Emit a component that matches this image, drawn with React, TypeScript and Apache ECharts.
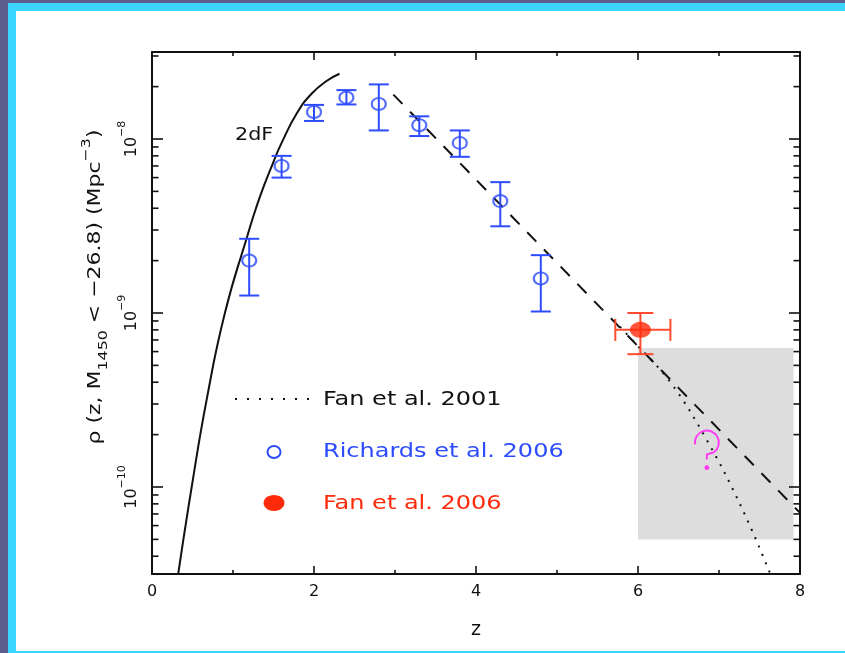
import React, { useEffect, useRef } from "react";
import * as echarts from "echarts";

// Richards et al. 2006 binned quasar space density (open circles) with 1-sigma range
const richardsZ = [1.2, 1.6, 2.0, 2.4, 2.8, 3.3, 3.8, 4.3, 4.8];
const richardsRho = [2.0e-9, 7.0e-9, 1.43e-8, 1.73e-8, 1.59e-8, 1.2e-8, 9.5e-9, 4.4e-9, 1.58e-9];
const richardsRhoHigh = [2.67e-9, 8.0e-9, 1.57e-8, 1.91e-8, 2.06e-8, 1.35e-8, 1.12e-8, 5.65e-9, 2.15e-9];
const richardsRhoLow = [1.26e-9, 6.0e-9, 1.27e-8, 1.58e-8, 1.12e-8, 1.04e-8, 7.9e-9, 3.15e-9, 1.02e-9];

// Fan et al. 2006 z ~ 6 measurement (filled circle) with redshift and density ranges
const fan06Z = [6.03];
const fan06Rho = [8.0e-10];
const fan06RhoHigh = [1.0e-9];
const fan06RhoLow = [5.8e-10];
const fan06ZLow = [5.72];
const fan06ZHigh = [6.4];

// 2dF luminosity function model (solid)
const twoDFZ = [0.325, 0.49, 0.676, 0.9, 1.18, 1.335, 1.5, 1.6, 1.79, 1.97, 2.16, 2.315];
const twoDFRho = [3.2e-11, 1.0e-10, 3.2e-10, 1.0e-9, 2.8e-9, 4.7e-9, 7.4e-9, 9.5e-9, 1.41e-8, 1.82e-8, 2.16e-8, 2.37e-8];

// High-redshift exponential decline (dashed)
const declineZ = [2.98, 8.0];
const declineRho = [1.8e-8, 7.1e-11];

// Fan et al. 2001 steepening extrapolation (dotted)
const fan01Z = [5.7, 5.98, 6.4, 6.85, 7.28, 7.63];
const fan01Rho = [9.1e-10, 6.6e-10, 4.0e-10, 1.86e-10, 7.6e-11, 3.2e-11];

// Unexplored region beyond z = 6 (shaded box) and its marker
const boxZ = [6.0, 7.92];
const boxRho = [5.0e-11, 6.3e-10];
const questionZ = 6.85;
const questionRho = 1.8e-10;

// Axis ranges and labelled decades
const xRange = [0, 8];
const yExpRange = [-10.5, -7.5];
const yLabelExponents = [-10, -9, -8];

const FONT = "DejaVu Sans";
const INK = "#111111";
const BLUE = "#2d4cff";
const RED = "#ff2a0a";
const RED_BAR = "#ff4b2e";
const MAGENTA = "#ff3cf5";

const L = (v: number) => Math.log10(v);

export default function App() {
  const ref = useRef<HTMLDivElement>(null);

  useEffect(() => {
    const el = ref.current;
    if (!el) return;
    const chart = echarts.init(el, null, { renderer: "svg" });

    // Logarithmic tick marks: decades long, 2..9 short
    const yTicks: number[][] = [];
    for (let n = Math.floor(yExpRange[0]); n <= Math.ceil(yExpRange[1]); n++) {
      for (let m = 1; m <= 9; m++) {
        const v = L(m * Math.pow(10, n));
        if (v >= yExpRange[0] - 1e-9 && v <= yExpRange[1] + 1e-9) {
          yTicks.push([xRange[0], v, m === 1 ? 1 : 0]);
        }
      }
    }

    const richardsBars = richardsZ.map((z, i) => [z, L(richardsRho[i]), L(richardsRhoLow[i]), L(richardsRhoHigh[i])]);
    const fanBars = fan06Z.map((z, i) => [z, L(fan06Rho[i]), L(fan06RhoLow[i]), L(fan06RhoHigh[i]), fan06ZLow[i], fan06ZHigh[i]]);

    const xAxisBase = {
      type: "value" as const,
      min: xRange[0],
      max: xRange[1],
      interval: 2,
      axisLine: { show: true, onZero: false, lineStyle: { color: INK, width: 2 } },
      axisTick: { show: true, inside: true, length: 8, lineStyle: { color: INK, width: 1.6 } },
      minorTick: { show: true, splitNumber: 2, length: 4, lineStyle: { color: INK, width: 1.6 } },
      splitLine: { show: false },
      minorSplitLine: { show: false },
    };

    const yAxisBase = {
      type: "value" as const,
      min: yExpRange[0],
      max: yExpRange[1],
      interval: 0.5,
      axisLine: { show: true, onZero: false, lineStyle: { color: INK, width: 2 } },
      axisTick: { show: false },
      splitLine: { show: false },
    };

    chart.setOption({
      animation: false,
      backgroundColor: "transparent",
      grid: { left: 152, top: 52, width: 648, height: 522, containLabel: false },
      xAxis: [
        {
          ...xAxisBase,
          position: "bottom",
          axisLabel: { show: true, margin: 8, fontSize: 16, color: INK, fontFamily: FONT },
          name: "z",
          nameLocation: "middle",
          nameGap: 44,
          nameTextStyle: { fontSize: 19, color: INK, fontFamily: FONT },
        },
        { ...xAxisBase, position: "top", axisLabel: { show: false } },
      ],
      yAxis: [
        {
          ...yAxisBase,
          position: "left",
          axisLabel: {
            show: true,
            rotate: 90,
            margin: 8,
            formatter: (v: number) => {
              const r = Math.round(v);
              if (Math.abs(v - r) > 1e-6 || !yLabelExponents.includes(r)) return "";
              return `{b|10}{s|\u2212${Math.abs(r)}}`;
            },
            rich: {
              b: { fontSize: 16, fontFamily: FONT, color: INK, lineHeight: 28 },
              s: { fontSize: 11, fontFamily: FONT, color: INK, lineHeight: 28, verticalAlign: "top" },
            },
          },
        },
        { ...yAxisBase, position: "right", axisLabel: { show: false } },
      ],
      series: [
        {
          // shaded region
          type: "custom",
          coordinateSystem: "cartesian2d",
          silent: true,
          z: 1,
          data: [[boxZ[0], L(boxRho[0]), boxZ[1], L(boxRho[1])]],
          encode: { x: 0, y: 1 },
          renderItem: (_p: any, api: any) => {
            const a = api.coord([api.value(0), api.value(3)]);
            const b = api.coord([api.value(2), api.value(1)]);
            return {
              type: "rect",
              shape: { x: a[0], y: a[1], width: b[0] - a[0], height: b[1] - a[1] },
              style: { fill: "#dddddd" },
            };
          },
        },
        {
          // log tick marks on left and right frame
          type: "custom",
          coordinateSystem: "cartesian2d",
          silent: true,
          z: 3,
          data: yTicks,
          encode: { x: 0, y: 1 },
          renderItem: (_p: any, api: any) => {
            const v = api.value(1);
            const len = api.value(2) ? 11 : 6.5;
            const pl = api.coord([xRange[0], v]);
            const pr = api.coord([xRange[1], v]);
            const style = { stroke: INK, lineWidth: 1.6 };
            return {
              type: "group",
              children: [
                { type: "line", shape: { x1: pl[0], y1: pl[1], x2: pl[0] + len, y2: pl[1] }, style },
                { type: "line", shape: { x1: pr[0] - len, y1: pr[1], x2: pr[0], y2: pr[1] }, style },
              ],
            };
          },
        },
        {
          name: "2dF",
          type: "line",
          data: twoDFZ.map((z, i) => [z, L(twoDFRho[i])]),
          showSymbol: false,
          smooth: 0.5,
          z: 5,
          lineStyle: { color: INK, width: 2 },
        },
        {
          name: "decline",
          type: "line",
          data: declineZ.map((z, i) => [z, L(declineRho[i])]),
          showSymbol: false,
          z: 5,
          lineStyle: { color: INK, width: 2, type: [13, 11] },
        },
        {
          name: "Fan et al. 2001",
          type: "line",
          data: fan01Z.map((z, i) => [z, L(fan01Rho[i])]),
          showSymbol: false,
          smooth: 0.4,
          z: 5,
          lineStyle: { color: INK, width: 2, type: [2, 7] },
        },
        {
          // Richards error bars
          type: "custom",
          coordinateSystem: "cartesian2d",
          silent: true,
          z: 6,
          data: richardsBars,
          encode: { x: 0, y: 1 },
          renderItem: (_p: any, api: any) => {
            const x = api.value(0);
            const lo = api.coord([x, api.value(2)]);
            const hi = api.coord([x, api.value(3)]);
            const w = 10;
            const style = { stroke: BLUE, lineWidth: 2 };
            return {
              type: "group",
              children: [
                { type: "line", shape: { x1: lo[0], y1: lo[1], x2: hi[0], y2: hi[1] }, style },
                { type: "line", shape: { x1: lo[0] - w, y1: lo[1], x2: lo[0] + w, y2: lo[1] }, style },
                { type: "line", shape: { x1: hi[0] - w, y1: hi[1], x2: hi[0] + w, y2: hi[1] }, style },
              ],
            };
          },
        },
        {
          name: "Richards et al. 2006",
          type: "scatter",
          data: richardsZ.map((z, i) => [z, L(richardsRho[i])]),
          symbol: "circle",
          symbolSize: [14, 12],
          z: 7,
          itemStyle: { color: "rgba(0,0,0,0)", borderColor: BLUE, borderWidth: 2 },
        },
        {
          // Fan 2006 error bars
          type: "custom",
          coordinateSystem: "cartesian2d",
          silent: true,
          z: 6,
          data: fanBars,
          encode: { x: 0, y: 1 },
          renderItem: (_p: any, api: any) => {
            const x = api.value(0);
            const y = api.value(1);
            const lo = api.coord([x, api.value(2)]);
            const hi = api.coord([x, api.value(3)]);
            const left = api.coord([api.value(4), y]);
            const right = api.coord([api.value(5), y]);
            const w = 13;
            const h = 11;
            const style = { stroke: RED_BAR, lineWidth: 2 };
            return {
              type: "group",
              children: [
                { type: "line", shape: { x1: lo[0], y1: lo[1], x2: hi[0], y2: hi[1] }, style },
                { type: "line", shape: { x1: lo[0] - w, y1: lo[1], x2: lo[0] + w, y2: lo[1] }, style },
                { type: "line", shape: { x1: hi[0] - w, y1: hi[1], x2: hi[0] + w, y2: hi[1] }, style },
                { type: "line", shape: { x1: left[0], y1: left[1], x2: right[0], y2: right[1] }, style },
                { type: "line", shape: { x1: left[0], y1: left[1] - h, x2: left[0], y2: left[1] + h }, style },
                { type: "line", shape: { x1: right[0], y1: right[1] - h, x2: right[0], y2: right[1] + h }, style },
              ],
            };
          },
        },
        {
          name: "Fan et al. 2006",
          type: "scatter",
          data: fan06Z.map((z, i) => [z, L(fan06Rho[i])]),
          symbol: "circle",
          symbolSize: [21, 16],
          z: 7,
          itemStyle: { color: RED },
        },
      ],
    });

    // Annotations placed from data coordinates
    const q = chart.convertToPixel({ xAxisIndex: 0, yAxisIndex: 0 }, [questionZ, L(questionRho)]) as number[];
    const qx = q[0];
    const qy = q[1];
    const endA = Math.PI * 2.3;
    const arcEnd = [qx + 12 * Math.cos(endA), qy + 12 * Math.sin(endA)];

    chart.setOption({
      graphic: [
        { type: "rect", z: -100, silent: true, shape: { x: 0, y: 0, width: 845, height: 653 }, style: { fill: "#5e5d90" } },
        { type: "rect", z: -99, silent: true, shape: { x: 8, y: 3, width: 837, height: 650 }, style: { fill: "#3bd4fc" } },
        { type: "rect", z: -98, silent: true, shape: { x: 16, y: 11, width: 829, height: 640 }, style: { fill: "#ffffff" } },
        {
          type: "text",
          x: 94,
          y: 287,
          rotation: Math.PI / 2,
          scaleX: 1.22,
          silent: true,
          style: {
            text: "{a|\u03c1 (z, M}{d|1450}{a| < \u221226.8) (Mpc}{u|\u22123}{a|)}",
            align: "center",
            verticalAlign: "middle",
            rich: {
              a: { fontSize: 18, fontFamily: FONT, fill: INK, lineHeight: 30 },
              d: { fontSize: 13, fontFamily: FONT, fill: INK, lineHeight: 30, verticalAlign: "bottom" },
              u: { fontSize: 13, fontFamily: FONT, fill: INK, lineHeight: 30, verticalAlign: "top" },
            },
          },
        },
        {
          type: "text",
          x: 235,
          y: 134,
          scaleX: 1.15,
          silent: true,
          style: { text: "2dF", fontSize: 18, fontFamily: FONT, fill: INK, align: "left", verticalAlign: "middle" },
        },
        // legend
        {
          type: "line",
          silent: true,
          shape: { x1: 235, y1: 399, x2: 309, y2: 399 },
          style: { stroke: INK, lineWidth: 2, lineDash: [2, 10] },
        },
        {
          type: "text",
          x: 323,
          y: 398,
          scaleX: 1.2,
          silent: true,
          style: { text: "Fan et al. 2001", fontSize: 20, fontFamily: FONT, fill: INK, align: "left", verticalAlign: "middle" },
        },
        {
          type: "ellipse",
          silent: true,
          shape: { cx: 274, cy: 452, rx: 6.5, ry: 6 },
          style: { fill: "none", stroke: BLUE, lineWidth: 2 },
        },
        {
          type: "text",
          x: 323,
          y: 450,
          scaleX: 1.2,
          silent: true,
          style: { text: "Richards et al. 2006", fontSize: 20, fontFamily: FONT, fill: BLUE, align: "left", verticalAlign: "middle" },
        },
        {
          type: "ellipse",
          silent: true,
          shape: { cx: 274, cy: 503, rx: 10.5, ry: 8 },
          style: { fill: RED },
        },
        {
          type: "text",
          x: 323,
          y: 502,
          scaleX: 1.2,
          silent: true,
          style: { text: "Fan et al. 2006", fontSize: 20, fontFamily: FONT, fill: RED, align: "left", verticalAlign: "middle" },
        },
        // question mark in the shaded region
        {
          type: "arc",
          silent: true,
          z: 10,
          shape: { cx: qx, cy: qy, r: 12, startAngle: Math.PI * 0.95, endAngle: endA, clockwise: true },
          style: { stroke: MAGENTA, lineWidth: 2, fill: "none" },
        },
        {
          type: "polyline",
          silent: true,
          z: 10,
          shape: { points: [arcEnd, [qx, qy + 12], [qx, qy + 17]] },
          style: { stroke: MAGENTA, lineWidth: 2, fill: "none" },
        },
        {
          type: "circle",
          silent: true,
          z: 10,
          shape: { cx: qx, cy: qy + 25, r: 2.5 },
          style: { fill: MAGENTA },
        },
      ],
    });

    return () => chart.dispose();
  }, []);

  return <div ref={ref} style={{ position: "fixed", left: 0, top: 0, width: 845, height: 653 }} />;
}
